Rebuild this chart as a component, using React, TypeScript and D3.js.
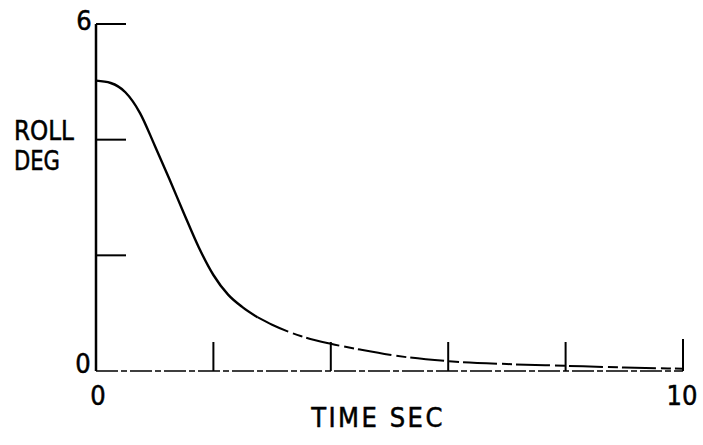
import React from "react";
import * as d3 from "d3";

// time (sec) and roll (deg)
const timeSec = [0, 0.25, 0.5, 0.75, 1.0, 1.25, 1.5, 1.75, 2.0, 2.25, 2.5, 2.75, 3.0, 3.5, 4.0, 4.5, 5.0, 6.0, 7.0, 8.0, 9.0, 10.0];
const rollDeg = [5.02, 4.98, 4.82, 4.46, 3.9, 3.32, 2.72, 2.14, 1.66, 1.32, 1.1, 0.93, 0.8, 0.6, 0.47, 0.37, 0.28, 0.17, 0.12, 0.09, 0.06, 0.04];

const xTicks = [2, 4, 6, 8, 10];
const yTicks = [2, 4, 6];
const xTickLabels = ["0", "10"];
const yTickLabels = ["0", "6"];

const W = 703;
const H = 445;
const FONT = "'DejaVu Sans Condensed', 'Liberation Sans Narrow', 'DejaVu Sans', sans-serif";

const App = () => {
  const x = d3.scaleLinear().domain([0, 10]).range([96, 683]);
  const y = d3.scaleLinear().domain([0, 6]).range([371, 24]);

  const pts = timeSec.map((t, i) => ({ t, v: rollDeg[i] }));
  const line = d3
    .line<{ t: number; v: number }>()
    .x((d) => x(d.t))
    .y((d) => y(d.v))
    .curve(d3.curveMonotoneX);

  const solid = pts.filter((d) => d.t <= 2.75);
  const tail = pts.filter((d) => d.t >= 2.75);

  const txt = { fontSize: 27, fill: "#000", stroke: "#000", strokeWidth: 0.5 };

  return (
    <svg
      width={W}
      height={H}
      style={{ position: "absolute", left: 0, top: 0, background: "#fff" }}
      fontFamily={FONT}
    >
      {/* y axis */}
      <line x1={x(0)} x2={x(0)} y1={y(0)} y2={y(6)} stroke="#000" strokeWidth={2.5} />
      {yTicks.map((v) => (
        <line key={v} x1={x(0)} x2={x(0) + 30} y1={y(v)} y2={y(v)} stroke="#000" strokeWidth={2} />
      ))}
      {/* x axis */}
      <line
        x1={x(0)}
        x2={x(10)}
        y1={y(0)}
        y2={y(0)}
        stroke="#000"
        strokeWidth={1.6}
        strokeDasharray="22 3 6 3"
      />
      {xTicks.map((t) => (
        <line key={t} x1={x(t)} x2={x(t)} y1={y(0)} y2={y(0) - (t === 10 ? 32 : 29)} stroke="#000" strokeWidth={2} />
      ))}

      {/* trace */}
      <path d={line(solid) || ""} fill="none" stroke="#000" strokeWidth={2.4} />
      <path d={line(tail) || ""} fill="none" stroke="#000" strokeWidth={2} strokeDasharray="34 5 10 4" />

      {/* tick labels */}
      <text x={x(0) - 12} y={y(6) + 6} textAnchor="middle" {...txt}>{yTickLabels[1]}</text>
      <text x={x(0) - 13} y={y(0) + 2} textAnchor="middle" {...txt}>{yTickLabels[0]}</text>
      <text x={x(0) + 2} y={y(0) + 34} textAnchor="middle" {...txt}>{xTickLabels[0]}</text>
      <text x={x(10) - 1} y={y(0) + 34} textAnchor="middle" {...txt}>{xTickLabels[1]}</text>

      {/* axis titles */}
      <text x={14} y={140} {...txt} textLength={60} lengthAdjust="spacingAndGlyphs">ROLL</text>
      <text x={14} y={170} {...txt} textLength={46} lengthAdjust="spacingAndGlyphs">DEG</text>
      <text x={378} y={427} textAnchor="middle" {...txt} letterSpacing={2.5}>TIME SEC</text>
    </svg>
  );
};

export default App;
